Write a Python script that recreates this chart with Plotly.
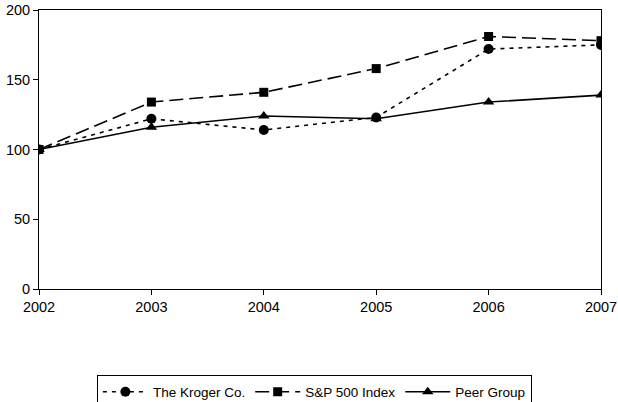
import plotly.graph_objects as go

years = [2002, 2003, 2004, 2005, 2006, 2007]
kroger = [100, 122, 114, 123, 172, 175]
sp500 = [100, 134, 141, 158, 181, 178]
peer = [100, 116, 124, 122, 134, 139]

fig = go.Figure()
fig.add_trace(go.Scatter(x=years, y=kroger, name="The Kroger Co.", mode="lines+markers",
                         line=dict(color="black", width=1.6, dash="4px,5px"),
                         marker=dict(symbol="circle", size=10, color="black")))
fig.add_trace(go.Scatter(x=years, y=sp500, name="S&P 500 Index", mode="lines+markers",
                         line=dict(color="black", width=1.6, dash="14px,6px"),
                         marker=dict(symbol="square", size=9, color="black")))
fig.add_trace(go.Scatter(x=years, y=peer, name="Peer Group", mode="lines+markers",
                         line=dict(color="black", width=1.6),
                         marker=dict(symbol="triangle-up", size=10, color="black")))

fig.update_layout(
    width=618, height=402,
    margin=dict(l=39, r=17, t=10, b=113, autoexpand=False),
    plot_bgcolor="white", paper_bgcolor="white",
    font=dict(family="Liberation Sans, Arial, sans-serif", size=14.5, color="black"),
    showlegend=True,
    legend=dict(orientation="h", x=0.49, xanchor="center", y=-0.31, yanchor="top",
                bordercolor="black", borderwidth=1, font=dict(size=13.5),
                itemwidth=45, tracegroupgap=0),
)
fig.update_xaxes(range=[2002, 2007], tickvals=years, showgrid=False, zeroline=False,
                 showline=True, linecolor="black", linewidth=1, mirror=True,
                 ticks="outside", ticklen=5, tickcolor="black", automargin=False,
                 ticklabeloverflow="allow")
fig.update_yaxes(range=[0, 200], tickvals=[0, 50, 100, 150, 200], showgrid=False, zeroline=False,
                 showline=True, linecolor="black", linewidth=1, mirror=True,
                 ticks="outside", ticklen=5, tickcolor="black", automargin=False,
                 ticklabeloverflow="allow")

# remove the page's default body margin so the 618x402 figure fills the window
fig.write_html("out.html", config={"displayModeBar": False},
               post_script="document.body.style.margin='0';")
